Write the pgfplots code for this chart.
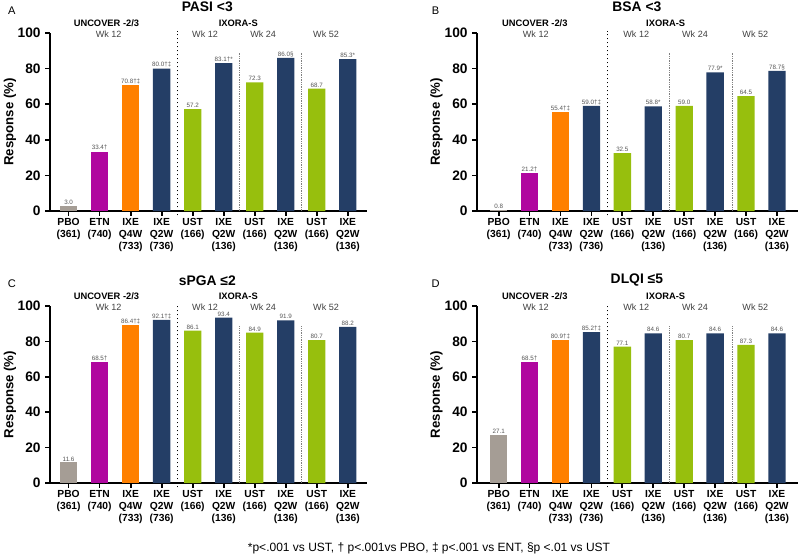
\documentclass[border=0pt]{standalone}
\usepackage{fontspec}
\setmainfont{Liberation Sans}
\usepackage{pgfplots}
\pgfplotsset{compat=1.18}

\definecolor{cpbo}{HTML}{A59D95}
\definecolor{cetn}{HTML}{B0079F}
\definecolor{cqfw}{HTML}{FF8000}
\definecolor{cqtw}{HTML}{243E66}
\definecolor{cust}{HTML}{97BF0D}
\definecolor{labgray}{HTML}{555555}
\definecolor{hdgray}{HTML}{404040}

\pgfplotsset{
  panel/.style={
    scale only axis, width=237.75pt, height=133.5pt,
    anchor=south west,
    ymin=0, ymax=100, ytick={0,20,...,100},
    xmin=-0.6, xmax=9.62,
    xtick={0,...,9},
    xticklabels={{PBO\\(361)},{ETN\\(740)},{IXE\\Q4W\\(733)},{IXE\\Q2W\\(736)},{UST\\(166)},{IXE\\Q2W\\(136)},{UST\\(166)},{IXE\\Q2W\\(136)},{UST\\(166)},{IXE\\Q2W\\(136)}},
    xticklabel style={align=center, yshift=1.2pt, font=\fontsize{7.7}{9}\selectfont\bfseries},
    yticklabel style={font=\fontsize{10.3}{12}\selectfont\bfseries},
    /pgf/number format/assume math mode=true,
    axis x line=bottom, axis y line=left,
    axis line style={-, line width=1.6pt},
    tick align=outside, major tick length=3.5pt,
    tick style={line width=1.3pt, black},
    ylabel={Response (\%)},
    ylabel style={font=\fontsize{9.9}{11}\selectfont\bfseries,
      at={(axis description cs:-0.126,0.5)}, anchor=center},
    ybar, bar width=0.56, bar shift=0pt,
    clip=false,
    nodes near coords, point meta=explicit symbolic,
    every node near coord/.append style={font=\fontsize{4.7}{5}\selectfont,
      text=labgray, inner sep=0.8pt},
  },
}
\tikzset{
  hdr/.style={font=\fontsize{7}{8}\selectfont\bfseries},
  wk/.style={font=\fontsize{6.8}{8}\selectfont, text=hdgray},
  ttl/.style={font=\fontsize{10.4}{12}\selectfont\bfseries},
  plet/.style={font=\fontsize{8.3}{10}\selectfont},
  sep/.style={line width=1pt, dash pattern=on 1.1pt off 1.9pt},
  sub/.style={gray, line width=0.4pt, dash pattern=on 0.4pt off 0.9pt},
}

\begin{document}
\begin{tikzpicture}
\path[use as bounding box] (0,0) rectangle (599.25pt,-417.75pt);

% A: PASI <3
\begin{axis}[panel, at={(37.5pt,-158.25pt)}]
  \addplot[fill=cpbo, draw=none] coordinates {(0,3.0) [3.0]};
  \addplot[fill=cetn, draw=none] coordinates {(1,33.4) [33.4†]};
  \addplot[fill=cqfw, draw=none] coordinates {(2,70.8) [70.8†‡]};
  \addplot[fill=cqtw, draw=none] coordinates {(3,80.0) [80.0†‡] (5,83.1) [83.1†*] (7,86.0) [86.0§] (9,85.3) [85.3*]};
  \addplot[fill=cust, draw=none] coordinates {(4,57.2) [57.2] (6,72.3) [72.3] (8,68.7) [68.7]};
  \draw[sep] (axis cs:3.5,-2.5) -- (axis cs:3.5,101);
  \draw[sub] (axis cs:5.5,0) -- (axis cs:5.5,89);
  \draw[sub] (axis cs:7.5,0) -- (axis cs:7.5,89);
  \node[hdr] at (axis cs:1.22,105.5) {UNCOVER -2/3};
  \node[wk] at (axis cs:1.29,99.5) {Wk 12};
  \node[hdr] at (axis cs:5.47,105.5) {IXORA-S};
  \node[wk] at (axis cs:4.4,99.5) {Wk 12};
  \node[wk] at (axis cs:6.27,99.5) {Wk 24};
  \node[wk] at (axis cs:8.3,99.5) {Wk 52};
  \node[ttl] at (axis cs:4.47,114.5) {PASI <3};
  \node[plet] at (axis cs:-1.83,112.5) {A};
\end{axis}

% B: BSA <3
\begin{axis}[panel, at={(357.75pt,-158.25pt)}, width=240.75pt, xmin=-0.7, xmax=9.68]
  \addplot[fill=cpbo, draw=none] coordinates {(0,0.8) [0.8]};
  \addplot[fill=cetn, draw=none] coordinates {(1,21.2) [21.2†]};
  \addplot[fill=cqfw, draw=none] coordinates {(2,55.4) [55.4†‡]};
  \addplot[fill=cqtw, draw=none] coordinates {(3,59.0) [59.0†‡] (5,58.8) [58.8*] (7,77.9) [77.9*] (9,78.7) [78.7§]};
  \addplot[fill=cust, draw=none] coordinates {(4,32.5) [32.5] (6,59.0) [59.0] (8,64.5) [64.5]};
  \draw[sep] (axis cs:3.53,-2.5) -- (axis cs:3.53,101);
  \draw[sub] (axis cs:5.53,0) -- (axis cs:5.53,89);
  \draw[sub] (axis cs:7.54,0) -- (axis cs:7.54,89);
  \node[hdr] at (axis cs:1.17,105.5) {UNCOVER -2/3};
  \node[wk] at (axis cs:1.2,99.5) {Wk 12};
  \node[hdr] at (axis cs:5.4,105.5) {IXORA-S};
  \node[wk] at (axis cs:4.45,99.5) {Wk 12};
  \node[wk] at (axis cs:6.35,99.5) {Wk 24};
  \node[wk] at (axis cs:8.3,99.5) {Wk 52};
  \node[ttl] at (axis cs:4.47,114.5) {BSA <3};
  \node[plet] at (axis cs:-2.04,112.5) {B};
\end{axis}

% C: sPGA <=2
\begin{axis}[panel, at={(37.5pt,-362.25pt)}, height=132.75pt]
  \addplot[fill=cpbo, draw=none] coordinates {(0,11.6) [11.6]};
  \addplot[fill=cetn, draw=none] coordinates {(1,68.5) [68.5†]};
  \addplot[fill=cqfw, draw=none] coordinates {(2,89.0) [86.4†‡]};
  \addplot[fill=cqtw, draw=none] coordinates {(3,92.1) [92.1†‡] (5,93.4) [93.4] (7,91.9) [91.9] (9,88.2) [88.2]};
  \addplot[fill=cust, draw=none] coordinates {(4,86.1) [86.1] (6,84.9) [84.9] (8,80.7) [80.7]};
  \draw[sep] (axis cs:3.5,-2.5) -- (axis cs:3.5,101);
  \draw[sub] (axis cs:5.5,0) -- (axis cs:5.5,89);
  \draw[sub] (axis cs:7.5,0) -- (axis cs:7.5,89);
  \node[hdr] at (axis cs:1.22,105.5) {UNCOVER -2/3};
  \node[wk] at (axis cs:1.29,99.5) {Wk 12};
  \node[hdr] at (axis cs:5.47,105.5) {IXORA-S};
  \node[wk] at (axis cs:4.4,99.5) {Wk 12};
  \node[wk] at (axis cs:6.27,99.5) {Wk 24};
  \node[wk] at (axis cs:8.3,99.5) {Wk 52};
  \node[ttl] at (axis cs:4.47,114.5) {sPGA ≤2};
  \node[plet] at (axis cs:-1.83,112.5) {C};
\end{axis}

% D: DLQI <=5
\begin{axis}[panel, at={(357.75pt,-362.25pt)}, width=240.75pt, height=132.75pt, xmin=-0.7, xmax=9.68]
  \addplot[fill=cpbo, draw=none] coordinates {(0,27.1) [27.1]};
  \addplot[fill=cetn, draw=none] coordinates {(1,68.5) [68.5†]};
  \addplot[fill=cqfw, draw=none] coordinates {(2,80.9) [80.9†‡]};
  \addplot[fill=cqtw, draw=none] coordinates {(3,85.2) [85.2†‡] (5,84.6) [84.6] (7,84.6) [84.6] (9,84.6) [84.6]};
  \addplot[fill=cust, draw=none] coordinates {(4,77.1) [77.1] (6,80.7) [80.7] (8,78.1) [87.3]};
  \draw[sep] (axis cs:3.53,-2.5) -- (axis cs:3.53,101);
  \draw[sub] (axis cs:5.53,0) -- (axis cs:5.53,89);
  \draw[sub] (axis cs:7.54,0) -- (axis cs:7.54,89);
  \node[hdr] at (axis cs:1.17,105.5) {UNCOVER -2/3};
  \node[wk] at (axis cs:1.2,99.5) {Wk 12};
  \node[hdr] at (axis cs:5.4,105.5) {IXORA-S};
  \node[wk] at (axis cs:4.45,99.5) {Wk 12};
  \node[wk] at (axis cs:6.35,99.5) {Wk 24};
  \node[wk] at (axis cs:8.3,99.5) {Wk 52};
  \node[ttl] at (axis cs:4.47,114.5) {DLQI ≤5};
  \node[plet] at (axis cs:-2.04,112.5) {D};
\end{axis}

\node[font=\fontsize{9}{11}\selectfont] at (321.75pt,-411pt)
  {*p<.001 vs UST, † p<.001vs PBO, ‡ p<.001 vs ENT, §p <.01 vs UST};
\end{tikzpicture}
\end{document}
